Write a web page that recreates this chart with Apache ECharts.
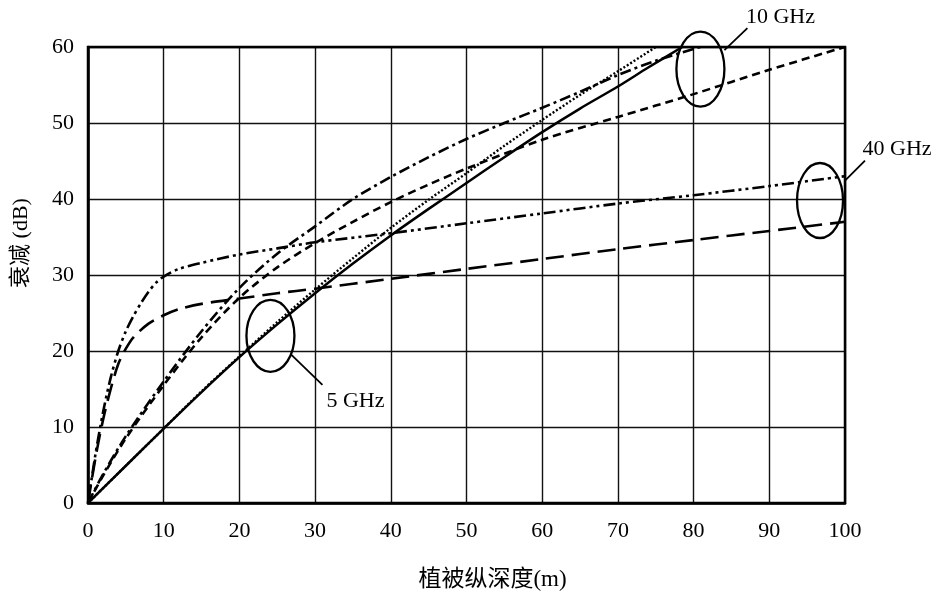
<!DOCTYPE html>
<html>
<head>
<meta charset="utf-8">
<script src="https://cdn.jsdelivr.net/npm/echarts@6/dist/echarts.min.js"></script>
<style>
html,body{margin:0;padding:0;background:#fff;}
#chart{width:941px;height:603px;}
</style>
</head>
<body>
<div id="chart"></div>
<script>
// ---- Data (depth in m, attenuation in dB) ----
var xTicks = [0,10,20,30,40,50,60,70,80,90,100];
var yTicks = [0,10,20,30,40,50,60];

// 5 GHz
var solid5X  = [0, 5, 10, 15, 20, 25, 30, 35, 40, 45, 50, 55, 60, 65, 70, 74, 78.5];
var solid5Y  = [0, 4.9, 9.8, 14.6, 19.2, 23.5, 27.6, 31.5, 35.2, 38.7, 42.1, 45.5, 48.8, 51.9, 54.8, 57.3, 60];
var dotted5X = [0, 5, 10, 15, 20, 25, 30, 35, 40, 45, 50, 55, 60, 65, 70, 75];
var dotted5Y = [0, 4.9, 9.8, 14.7, 19.3, 23.8, 28.1, 32.2, 36.2, 39.9, 43.4, 47.0, 50.4, 53.7, 56.8, 60];

// 10 GHz
var dashDot10X = [0, 2, 5, 10, 15, 20, 25, 30, 35, 40, 45, 50, 55, 60, 65, 70, 75, 80.9];
var dashDot10Y = [0, 3.8, 8.8, 16.0, 22.6, 28.3, 32.8, 36.4, 40.0, 42.9, 45.5, 47.9, 50.0, 52.0, 54.1, 56.3, 58.2, 60];
var dash10X = [0, 2, 5, 10, 15, 20, 25, 30, 35, 40, 45, 50, 60, 70, 80, 90, 100];
var dash10Y = [0, 3.6, 8.5, 15.5, 21.8, 27.0, 31.0, 34.2, 37.0, 39.6, 41.9, 44.0, 47.8, 50.8, 53.8, 57.0, 60];

// 40 GHz
var dashDotDot40X = [0, 1, 2, 3, 4, 5, 6, 7, 8, 9, 10, 12, 15, 20, 25, 30, 40, 50, 60, 70, 80, 90, 100];
var dashDotDot40Y = [0, 6.5, 12, 16.5, 20, 22.6, 24.6, 26.3, 27.8, 29.0, 29.8, 30.8, 31.6, 32.7, 33.5, 34.3, 35.5, 36.8, 38.1, 39.4, 40.5, 41.7, 43.0];
var longDash40X = [0, 1, 2, 3, 4, 5, 6, 8, 10, 12, 15, 20, 25, 30, 40, 50, 60, 70, 80, 90, 100];
var longDash40Y = [0, 6, 11, 15, 18.3, 20.3, 21.8, 23.6, 24.7, 25.5, 26.2, 26.9, 27.6, 28.2, 29.5, 30.8, 32.1, 33.4, 34.6, 35.8, 37.0];

// annotation labels
var annoLabels = ['5 GHz', '10 GHz', '40 GHz'];
var annoCenters = [[24.1, 22.0], [80.9, 57.1], [96.7, 39.8]];

function pairs(xs, ys){ return xs.map(function(x,i){ return [x, ys[i]]; }); }

var chart = echarts.init(document.getElementById('chart'), null, {renderer:'canvas'});

function mkSeries(name, xs, ys, type, width){
  return {
    name: name, type: 'line', data: pairs(xs, ys), showSymbol: false, symbol: 'none',
    smooth: 0.3, silent: true, clip: true,
    lineStyle: { color: '#000', width: width || 2.4, type: type, cap: 'butt' },
    z: 3
  };
}

var serif = '"Liberation Serif","DejaVu Serif",serif';
var mixed = '"Liberation Serif","Noto Sans CJK SC",serif';

var option = {
  animation: false,
  backgroundColor: '#fff',
  grid: { left: 88, right: 96, top: 47, bottom: 100, containLabel: false },
  xAxis: {
    type: 'value', min: 0, max: 100, interval: 10,
    name: '植被纵深度(m)', nameLocation: 'middle', nameGap: 65,
    nameTextStyle: { fontFamily: mixed, fontSize: 23, color: '#000', padding: [0, 0, 0, 52] },
    axisLine: { show: true, lineStyle: { color: '#000', width: 2.5 } },
    axisTick: { show: false },
    axisLabel: { fontFamily: serif, fontSize: 22, color: '#000', margin: 17,
      formatter: function(v){ return xTicks.indexOf(v) >= 0 ? String(v) : ''; } },
    splitLine: { show: true, lineStyle: { color: '#111', width: 1.4 } }
  },
  yAxis: {
    type: 'value', min: 0, max: 60, interval: 10,
    name: '衰减 (dB)', nameLocation: 'middle', nameGap: 56, nameRotate: 90,
    nameTextStyle: { fontFamily: mixed, fontSize: 22, color: '#000', padding: [0, 0, 0, 64] },
    axisLine: { show: true, lineStyle: { color: '#000', width: 2.5 } },
    axisTick: { show: false },
    axisLabel: { fontFamily: serif, fontSize: 22, color: '#000', margin: 14,
      formatter: function(v){ return yTicks.indexOf(v) >= 0 ? String(v) : ''; } },
    splitLine: { show: true, lineStyle: { color: '#111', width: 1.4 } }
  },
  series: [
    mkSeries('5 GHz a', solid5X, solid5Y, 'solid', 2.5),
    mkSeries('5 GHz b', dotted5X, dotted5Y, [2, 2], 2.4),
    mkSeries('10 GHz a', dashDot10X, dashDot10Y, [11, 4, 3, 4], 2.6),
    mkSeries('10 GHz b', dash10X, dash10Y, [8, 5], 2.6),
    mkSeries('40 GHz a', dashDotDot40X, dashDotDot40Y, [12, 4, 3, 4, 3, 4], 2.6),
    mkSeries('40 GHz b', longDash40X, longDash40Y, [18, 8], 2.6)
  ]
};
chart.setOption(option);

function px(p){ return chart.convertToPixel({gridIndex:0}, p); }
var tl = px([0,60]), br = px([100,0]);

var ellSize = [[24, 36], [24, 37.5], [23, 37.5]];
var leaderFrom = [[21, 19], [24, -19], [25, -20]];   // offsets from ellipse center (px)
var leaderTo = [[52, 49], [47, -41], [45, -40]];
var labelPos = [[85, 65], [80, -52], [77, -51]];

var graphics = [{
  type: 'rect', shape: { x: tl[0], y: tl[1], width: br[0]-tl[0], height: br[1]-tl[1] },
  style: { fill: 'none', stroke: '#000', lineWidth: 2.5 }, z: 10
}];
annoCenters.forEach(function(c, i){
  var p = px(c);
  graphics.push({ type: 'ellipse', shape: { cx: p[0], cy: p[1], rx: ellSize[i][0], ry: ellSize[i][1] },
    style: { fill: 'none', stroke: '#000', lineWidth: 2.3 }, z: 11 });
  graphics.push({ type: 'line', shape: { x1: p[0]+leaderFrom[i][0], y1: p[1]+leaderFrom[i][1], x2: p[0]+leaderTo[i][0], y2: p[1]+leaderTo[i][1] },
    style: { stroke: '#000', lineWidth: 1.8 }, z: 11 });
  graphics.push({ type: 'text', x: p[0]+labelPos[i][0], y: p[1]+labelPos[i][1],
    style: { text: annoLabels[i], font: '22px ' + serif, fill: '#000', textAlign: 'center', textVerticalAlign: 'middle' }, z: 11 });
});
chart.setOption({ graphic: graphics });
</script>
</body>
</html>
